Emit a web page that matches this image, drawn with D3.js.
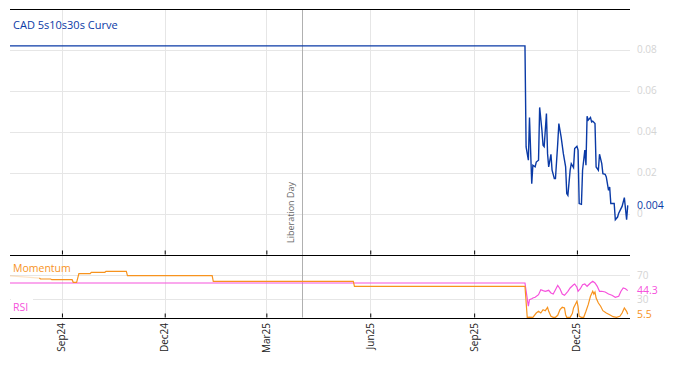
<!DOCTYPE html>
<html>
<head>
<meta charset="utf-8">
<script src="https://cdn.jsdelivr.net/npm/d3@7"></script>
<style>
  body { margin: 0; background: #fff; }
  text { font-family: "Open Sans", "Noto Sans", sans-serif; }
</style>
</head>
<body>
<script>

    // curve (5s10s30s fly), daily
    var curveDates = ["2024-07-17","2025-10-16","2025-10-17","2025-10-19","2025-10-20","2025-10-22","2025-10-23",
        "2025-10-25","2025-10-26","2025-10-28","2025-10-29","2025-10-31","2025-11-01","2025-11-02","2025-11-04",
        "2025-11-05","2025-11-06","2025-11-08","2025-11-09","2025-11-11","2025-11-12","2025-11-14","2025-11-15",
        "2025-11-17","2025-11-19","2025-11-21","2025-11-22","2025-11-23","2025-11-25","2025-11-26","2025-11-28",
        "2025-11-29","2025-12-01","2025-12-02","2025-12-03","2025-12-05","2025-12-06","2025-12-08","2025-12-09",
        "2025-12-10","2025-12-11","2025-12-13","2025-12-14","2025-12-15","2025-12-17","2025-12-18","2025-12-20",
        "2025-12-21","2025-12-23","2025-12-24","2025-12-26","2025-12-27","2025-12-29","2025-12-30","2025-12-31",
        "2026-01-01","2026-01-03","2026-01-04","2026-01-06","2026-01-07","2026-01-09","2026-01-10","2026-01-12",
        "2026-01-14","2026-01-15"];
    var curveVals = [0.082,0.082,0.0326,0.0261,0.047,0.0146,0.0236,
        0.0228,0.0252,0.0261,0.0519,0.0408,0.0334,0.0327,0.0489,
        0.0293,0.0228,0.029,0.0212,0.0171,0.0171,0.0342,0.044,
        0.0375,0.0293,0.0228,0.0098,0.0089,0.0212,0.0244,0.0225,
        0.0318,0.0329,0.031,0.0049,0.0045,0.0212,0.031,0.0236,
        0.0476,0.0457,0.047,0.0448,0.0452,0.044,0.0228,0.0212,
        0.029,0.0244,0.0195,0.0192,0.0179,0.0114,0.013,0.0049,
        0.0049,0.0049,-0.003,-0.0017,0.0002,0.0024,0.0035,0.0078,
        -0.003,0.004];

    var rsiDates = ["2024-07-17","2025-10-16","2025-10-19","2025-10-20","2025-10-22","2025-10-23","2025-10-25",
        "2025-10-28","2025-10-30","2025-11-01","2025-11-03","2025-11-06","2025-11-08","2025-11-10","2025-11-12",
        "2025-11-14","2025-11-16","2025-11-18","2025-11-20","2025-11-23","2025-11-25","2025-11-28","2025-11-29",
        "2025-12-01","2025-12-02","2025-12-04","2025-12-06","2025-12-08","2025-12-10","2025-12-13","2025-12-15",
        "2025-12-17","2025-12-19","2025-12-21","2025-12-23","2025-12-26","2025-12-29","2026-01-01","2026-01-04",
        "2026-01-07","2026-01-09","2026-01-11","2026-01-13","2026-01-15"];
    var rsiVals = [56.8,56.8,18.5,29.3,31,32.1,33.3,
        37.6,45.8,44.2,43.2,44.8,40.4,38.7,45.8,
        53,47.4,38.7,36.6,43.2,48.6,54,55.2,
        49.8,43.2,47.4,54,55.2,51.4,56.8,59.6,
        56.8,51.4,43.2,43.2,42,38.7,36.6,33.3,
        34.9,43.2,48.6,47.4,44.3];

    var momDates = ["2024-07-17","2024-08-01","2024-08-12","2024-08-13","2024-08-22","2024-08-23","2024-09-10",
        "2024-09-11","2024-09-14","2024-09-16","2024-09-26","2024-09-27","2024-10-09","2024-10-10","2024-10-28",
        "2024-10-29","2025-01-12","2025-01-13","2025-05-17","2025-05-18","2025-10-16","2025-10-18","2025-10-20",
        "2025-10-23","2025-10-26","2025-10-28","2025-10-30","2025-11-01","2025-11-03","2025-11-05","2025-11-06",
        "2025-11-08","2025-11-10","2025-11-12","2025-11-14","2025-11-16","2025-11-18","2025-11-20","2025-11-21",
        "2025-11-22","2025-11-25","2025-11-27","2025-11-28","2025-12-01","2025-12-02","2025-12-03","2025-12-05",
        "2025-12-07","2025-12-09","2025-12-11","2025-12-13","2025-12-15","2025-12-16","2025-12-17","2025-12-18",
        "2025-12-20","2025-12-22","2025-12-24","2025-12-27","2025-12-30","2026-01-02","2026-01-05","2026-01-08",
        "2026-01-10","2026-01-12","2026-01-14","2026-01-15"];
    var momVals = [68.5,66.5,65,63.4,63.4,62.3,62.3,
        58,58,72.2,72.2,74.5,74.5,76.1,76.1,
        68.9,68.9,59.6,59.6,51.4,51.4,0.3,0.5,
        0.3,7.4,10.2,7.4,12.9,11.2,16.8,10.2,
        2,0.3,0.3,3.6,12.9,16.8,15.7,4.6,
        0.3,0.3,6.9,15.7,26.7,18.5,2,0.3,
        0.3,10.2,21.1,34.9,43.2,38.7,42,32.1,
        23.9,18.5,11.2,7.4,4.6,1.3,0.3,2,
        7.4,15.7,10.2,5.5];
    var momWarmupEnd = "2024-08-12";

    var tickDates = ["2024-09-01","2024-12-01","2025-03-01","2025-06-01","2025-09-01","2025-12-01"];
    var curveTicks = [0, 0.02, 0.04, 0.06, 0.08];
    var oscTicks = [30, 70];
    var eventDate = "2025-04-02", eventLabel = "Liberation Day";
    var xStart = "2024-07-17", xEnd = "2026-01-17";

    var W = 674, H = 366,
        left = 10, right = 630,
        topY = 9, midY = 254.5, botY = 317.5;

    var parse = d3.timeParse("%Y-%m-%d"),
        fmt = d3.timeFormat("%b%y");

    var blue = "#0a3aa6", orange = "#f7931e", pink = "#f652dc", grid = "#e6e6e6", lab = "#d4d4d4";

    var svg = d3.select("body").append("svg")
        .attr("width", W)
        .attr("height", H);

    var x = d3.scaleTime()
        .domain([parse(xStart), parse(xEnd)])
        .range([left, right]);

    var y = d3.scaleLinear().domain([-0.02, 0.1]).range([midY, topY]);
    var y2 = d3.scaleLinear().domain([0, 100]).range([botY, 256.8]);

    var curve = curveDates.map(function(d, i) { return {date: parse(d), v: curveVals[i]}; });
    var rsi = rsiDates.map(function(d, i) { return {date: parse(d), v: rsiVals[i]}; });
    var mom = momDates.map(function(d, i) { return {date: parse(d), v: momVals[i]}; });
    var warm = parse(momWarmupEnd);

    // grid
    svg.append("g").selectAll("line").data(curveTicks).enter().append("line")
        .attr("x1", left).attr("x2", right)
        .attr("y1", function(d) { return Math.round(y(d)) + 0.5; })
        .attr("y2", function(d) { return Math.round(y(d)) + 0.5; })
        .attr("stroke", grid);
    svg.append("g").selectAll("line").data(oscTicks).enter().append("line")
        .attr("x1", left).attr("x2", right)
        .attr("y1", function(d) { return Math.round(y2(d)) + 0.5; })
        .attr("y2", function(d) { return Math.round(y2(d)) + 0.5; })
        .attr("stroke", grid);
    svg.append("g").selectAll("line").data(tickDates).enter().append("line")
        .attr("x1", function(d) { return Math.round(x(parse(d))) + 0.5; })
        .attr("x2", function(d) { return Math.round(x(parse(d))) + 0.5; })
        .attr("y1", topY).attr("y2", botY)
        .attr("stroke", grid);

    // liberation day
    var ex = Math.round(x(parse(eventDate))) + 0.5;
    svg.append("line")
        .attr("x1", ex).attr("x2", ex).attr("y1", topY).attr("y2", botY)
        .attr("stroke", "#b0b0b0");
    svg.append("text")
        .attr("transform", "translate(" + (ex - 9) + ",243) rotate(-90)")
        .attr("font-size", "9px")
        .attr("fill", "#666")
        .text(eventLabel);

    // axes
    svg.append("g")
        .attr("transform", "translate(0," + midY + ")")
        .call(d3.axisBottom(x).tickValues(tickDates.map(parse)).tickSize(-4).tickFormat(""))
        .call(function(g) { g.select(".domain").remove(); g.selectAll("line").attr("stroke", "#000"); });
    svg.append("g")
        .attr("transform", "translate(0," + botY + ")")
        .call(d3.axisBottom(x).tickValues(tickDates.map(parse)).tickSize(-4).tickFormat(""))
        .call(function(g) { g.select(".domain").remove(); g.selectAll("line").attr("stroke", "#000"); });

    [topY, midY, botY].forEach(function(v) {
        svg.append("line").attr("x1", left).attr("x2", right)
            .attr("y1", Math.round(v) + 0.5).attr("y2", Math.round(v) + 0.5)
            .attr("stroke", "#000");
    });

    svg.append("g").selectAll("text").data(tickDates).enter().append("text")
        .attr("transform", function(d) { return "translate(" + (x(parse(d)) + 3.5) + ",323) rotate(-90)"; })
        .attr("text-anchor", "end")
        .attr("font-size", "10px")
        .attr("fill", "#222")
        .text(function(d) { return fmt(parse(d)); });

    // right labels
    svg.append("g").selectAll("text").data(curveTicks).enter().append("text")
        .attr("x", 637).attr("y", function(d) { return y(d); })
        .attr("dy", "0.35em")
        .attr("font-size", "10px")
        .attr("fill", lab)
        .text(function(d) { return d === 0 ? "0" : d3.format(".2f")(d); });
    svg.append("g").selectAll("text").data(oscTicks).enter().append("text")
        .attr("x", 637).attr("y", function(d) { return y2(d); })
        .attr("dy", "0.35em")
        .attr("font-size", "10px")
        .attr("fill", lab)
        .text(function(d) { return d; });

    // lines
    var line = d3.line().x(function(d) { return x(d.date); }).y(function(d) { return y(d.v); });
    var line2 = d3.line().x(function(d) { return x(d.date); }).y(function(d) { return y2(d.v); });

    svg.append("path").datum(rsi)
        .attr("d", line2).attr("fill", "none").attr("stroke", pink).attr("stroke-width", 1.2);

    svg.append("path").datum(mom.filter(function(d) { return d.date <= warm; }))
        .attr("d", line2).attr("fill", "none").attr("stroke", orange).attr("stroke-width", 1.2)
        .attr("stroke-opacity", 0.25);
    svg.append("path").datum(mom.filter(function(d) { return d.date >= warm; }))
        .attr("d", line2).attr("fill", "none").attr("stroke", orange).attr("stroke-width", 1.2);

    svg.append("path").datum(curve)
        .attr("d", line).attr("fill", "none").attr("stroke", blue).attr("stroke-width", 1.4);

    // panel labels
    svg.append("text").attr("x", 13).attr("y", 29)
        .attr("font-size", "11px").attr("fill", blue)
        .text("CAD 5s10s30s Curve");

    svg.append("rect").attr("x", 11).attr("y", 298).attr("width", 22).attr("height", 14).attr("fill", "#fff");
    svg.append("text").attr("x", 13).attr("y", 272)
        .attr("font-size", "10.5px").attr("fill", orange)
        .text("Momentum");
    svg.append("text").attr("x", 13).attr("y", 311)
        .attr("font-size", "10.5px").attr("fill", pink)
        .text("RSI");

    var lastC = curve[curve.length - 1], lastR = rsi[rsi.length - 1], lastM = mom[mom.length - 1];
    svg.append("text").attr("x", 637).attr("y", y(lastC.v)).attr("dy", "0.35em")
        .attr("font-size", "10.5px").attr("fill", blue).text(lastC.v);
    svg.append("text").attr("x", 637).attr("y", y2(lastR.v)).attr("dy", "0.35em")
        .attr("font-size", "10.5px").attr("fill", pink).text(lastR.v);
    svg.append("text").attr("x", 637).attr("y", y2(lastM.v)).attr("dy", "0.35em")
        .attr("font-size", "10.5px").attr("fill", orange).text(lastM.v);

</script>
</body>
</html>
